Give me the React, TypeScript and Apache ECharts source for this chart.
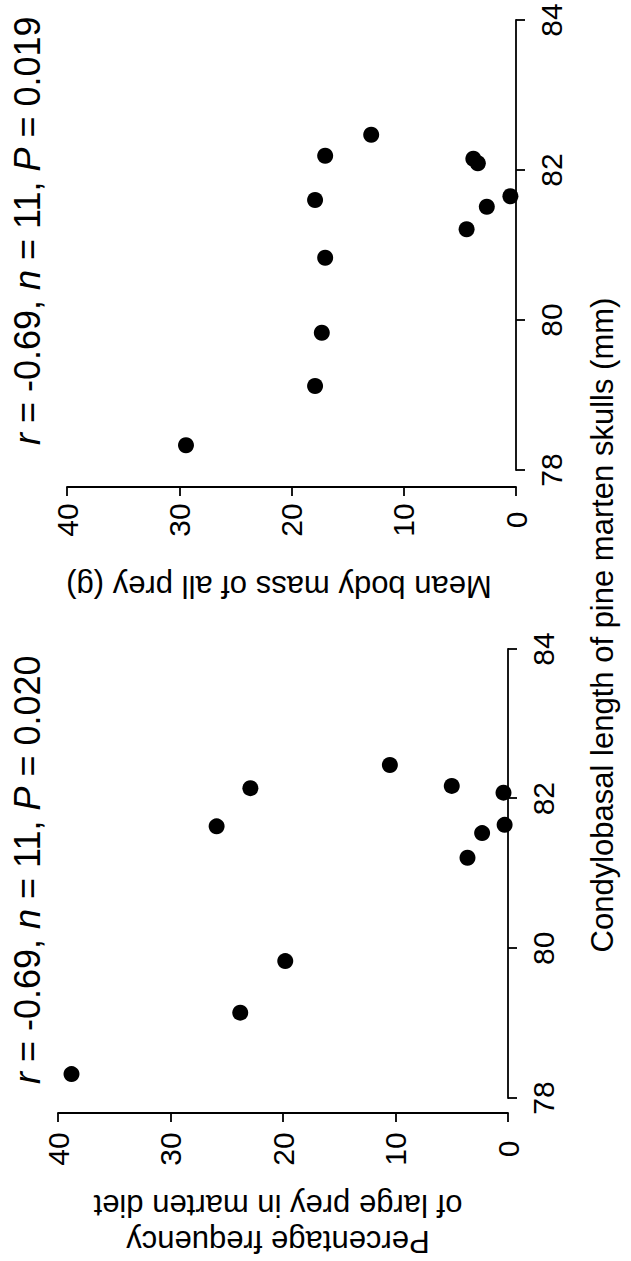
import React, { useEffect, useRef } from "react";
import * as echarts from "echarts";

// Left panel (original orientation): percentage frequency of large prey
const leftSkull = [82.45, 82.14, 82.17, 82.08, 81.63, 81.65, 81.54, 81.21, 79.83, 79.14, 78.32];
const leftLargePrey = [10.5, 22.9, 5.0, 0.4, 25.9, 0.3, 2.3, 3.6, 19.8, 23.8, 38.8];

// Right panel: mean body mass of all prey
const rightSkull = [82.47, 82.19, 82.15, 82.09, 81.6, 81.65, 81.51, 81.21, 80.83, 79.83, 79.12, 78.33];
const rightMass = [12.9, 17.0, 3.8, 3.4, 17.9, 0.5, 2.6, 4.4, 17.0, 17.3, 17.9, 29.4];

const xTicks = [78, 80, 82, 84];
const yTicks = [0, 10, 20, 30, 40];

const leftTitle = "{i|r} = -0.69, {i|n} = 11, {i|P} = 0.020";
const rightTitle = "{i|r} = -0.69, {i|n} = 11, {i|P} = 0.019";
const xName = "Condylobasal length of pine marten skulls (mm)";
const leftYName = ["Percentage frequency", "of large prey in marten diet"];
const rightYName = "Mean body mass of all prey (g)";

const FONT = "'Liberation Sans', Arial, Helvetica, sans-serif";
const W = 1261;
const H = 631;

export default function App() {
  const ref = useRef<HTMLDivElement>(null);

  useEffect(() => {
    if (!ref.current) return;
    const chart = echarts.init(ref.current, undefined, { renderer: "svg", width: W, height: H });

    const axisCommon = {
      axisLine: { show: true, lineStyle: { color: "#000", width: 1.8 } },
      axisTick: { show: true, length: 9, lineStyle: { color: "#000", width: 1.8 } },
      splitLine: { show: false },
    };
    const xAxisBase = (gridIndex: number) => ({
      ...axisCommon,
      type: "value",
      gridIndex,
      min: xTicks[0],
      max: xTicks[xTicks.length - 1],
      interval: 2,
      position: "bottom",
      offset: 2,
      axisLabel: { color: "#000", fontSize: 30, fontFamily: FONT, margin: 18 },
    });
    const yAxisBase = (gridIndex: number, margin: number, offset: number) => ({
      ...axisCommon,
      type: "value",
      gridIndex,
      min: yTicks[0],
      max: yTicks[yTicks.length - 1],
      interval: 10,
      position: "left",
      offset,
      axisLabel: { color: "#000", fontSize: 30, fontFamily: FONT, margin, align: "center" },
    });

    const titleStyle = (text: string) => ({
      text,
      fill: "#000",
      fontSize: 36,
      fontFamily: FONT,
      align: "left",
      verticalAlign: "middle",
      rich: { i: { fontStyle: "italic", fontSize: 36, fontFamily: FONT, fill: "#000" } },
    });

    const dotStyle = { color: "#000", opacity: 1 };

    chart.setOption({
      animation: false,
      backgroundColor: "#fff",
      grid: [
        { left: 163, top: 58, width: 449, height: 450 },
        { left: 791, top: 67, width: 450, height: 449 },
      ],
      xAxis: [xAxisBase(0), xAxisBase(1)],
      yAxis: [yAxisBase(0, 36, 15), yAxisBase(1, 33, 17)],
      series: [
        {
          type: "scatter",
          xAxisIndex: 0,
          yAxisIndex: 0,
          symbol: "circle",
          symbolSize: 16,
          itemStyle: dotStyle,
          data: leftSkull.map((x, i) => [x, leftLargePrey[i]]),
        },
        {
          type: "scatter",
          xAxisIndex: 1,
          yAxisIndex: 1,
          symbol: "circle",
          symbolSize: 16,
          itemStyle: dotStyle,
          data: rightSkull.map((x, i) => [x, rightMass[i]]),
        },
      ],
      graphic: [
        { type: "text", x: 177, y: 27, style: titleStyle(leftTitle) },
        { type: "text", x: 816, y: 27, style: titleStyle(rightTitle) },
        {
          type: "text",
          x: 636,
          y: 602,
          style: { text: xName, fill: "#000", fontSize: 31, fontFamily: FONT, align: "center", verticalAlign: "middle" },
        },
        {
          type: "text",
          x: 20,
          y: 278,
          rotation: Math.PI / 2,
          style: { text: leftYName[0], fill: "#000", fontSize: 31, fontFamily: FONT, align: "center", verticalAlign: "middle" },
        },
        {
          type: "text",
          x: 56,
          y: 278,
          rotation: Math.PI / 2,
          style: { text: leftYName[1], fill: "#000", fontSize: 31, fontFamily: FONT, align: "center", verticalAlign: "middle" },
        },
        {
          type: "text",
          x: 675,
          y: 279,
          rotation: Math.PI / 2,
          style: { text: rightYName, fill: "#000", fontSize: 31, fontFamily: FONT, align: "center", verticalAlign: "middle" },
        },
      ],
    });

    return () => chart.dispose();
  }, []);

  return (
    <div
      style={{
        position: "fixed",
        left: 0,
        top: 0,
        width: 631,
        height: 1261,
        background: "#fff",
        overflow: "hidden",
      }}
    >
      <div
        style={{
          position: "absolute",
          left: 0,
          top: 0,
          width: W,
          height: H,
          transformOrigin: "0 0",
          transform: "translate(0px, 1261px) rotate(-90deg)",
        }}
      >
        <div ref={ref} style={{ width: W, height: H }} />
      </div>
    </div>
  );
}
